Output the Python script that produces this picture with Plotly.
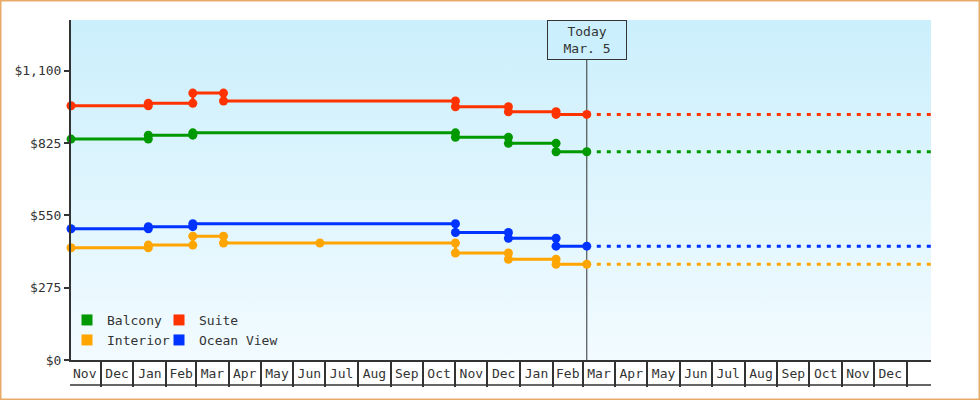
import pandas as pd
import plotly.graph_objects as go

# ---------------- data ----------------
X_START = "2021-11-03"
X_END = "2024-01-24"
FIRST_MONTH = "2021-11-01"
TODAY = "2023-03-05"
TODAY_LABEL = "Today<br>Mar. 5"
Y_MAX = 1293

MONTH_LABELS = ["Nov", "Dec", "Jan", "Feb", "Mar", "Apr", "May", "Jun", "Jul", "Aug",
                "Sep", "Oct", "Nov", "Dec", "Jan", "Feb", "Mar", "Apr", "May", "Jun",
                "Jul", "Aug", "Sep", "Oct", "Nov", "Dec"]
Y_TICKS = [0, 275, 550, 825, 1100]
Y_TICK_LABELS = ["$0", "$275", "$550", "$825", "$1,100"]

suite_dates = ["2021-11-03", "2022-01-15", "2022-01-15", "2022-02-26", "2022-02-26",
               "2022-03-27", "2022-03-27", "2022-11-01", "2022-11-01", "2022-12-21",
               "2022-12-21", "2023-02-04", "2023-02-04", "2023-03-05"]
suite_prices = [967, 967, 976, 976, 1015, 1015, 985, 985, 963, 963, 944, 944, 934, 934]

balcony_dates = ["2021-11-03", "2022-01-15", "2022-01-15", "2022-02-26", "2022-02-26",
                 "2022-11-01", "2022-11-01", "2022-12-21", "2022-12-21", "2023-02-04",
                 "2023-02-04", "2023-03-05"]
balcony_prices = [840, 840, 855, 855, 864, 864, 847, 847, 824, 824, 792, 792]

ocean_dates = ["2021-11-03", "2022-01-15", "2022-01-15", "2022-02-26", "2022-02-26",
               "2022-11-01", "2022-11-01", "2022-12-21", "2022-12-21", "2023-02-04",
               "2023-02-04", "2023-03-05"]
ocean_prices = [499, 499, 507, 507, 518, 518, 485, 485, 463, 463, 433, 433]

interior_dates = ["2021-11-03", "2022-01-15", "2022-01-15", "2022-02-26", "2022-02-26",
                  "2022-03-27", "2022-03-27", "2022-06-26", "2022-11-01", "2022-11-01",
                  "2022-12-21", "2022-12-21", "2023-02-04", "2023-02-04", "2023-03-05"]
interior_prices = [427, 427, 437, 437, 471, 471, 445, 445, 445, 407, 407, 383, 383, 364, 364]

SERIES = [
    ("Balcony", balcony_dates, balcony_prices, "#009900"),
    ("Suite", suite_dates, suite_prices, "#ff3300"),
    ("Interior", interior_dates, interior_prices, "#ffa500"),
    ("Ocean View", ocean_dates, ocean_prices, "#0033ff"),
]
LEGEND_OF = {"Balcony": "legend", "Suite": "legend", "Interior": "legend2", "Ocean View": "legend2"}

# ---------------- style ----------------
FONT = "DejaVu Sans Mono"
INK = "#333333"
BG_TOP = "#cbeffc"
BG_BOTTOM = "#f2fbff"
W, H = 980, 400
ML, MR, MT, MB = 71, 49, 20, 40
PW, PH = W - ML - MR, H - MT - MB

month_starts = pd.date_range(FIRST_MONTH, periods=len(MONTH_LABELS) + 1, freq="MS")
month_mids = [month_starts[i] + (month_starts[i + 1] - month_starts[i]) / 2
              for i in range(len(MONTH_LABELS))]
boundaries = list(month_starts[1:])

fig = go.Figure()

# background gradient
fig.add_trace(go.Scatter(
    x=[X_START, X_END, X_END, X_START, X_START], y=[0, 0, Y_MAX, Y_MAX, 0],
    mode="none", fill="toself",
    fillgradient=dict(type="vertical", colorscale=[[0, BG_BOTTOM], [1, BG_TOP]]),
    hoverinfo="skip", showlegend=False))

# today line
fig.add_trace(go.Scatter(x=[TODAY, TODAY], y=[0, Y_MAX], mode="lines",
                         line=dict(color=INK, width=1), hoverinfo="skip", showlegend=False))

for name, d, p, c in SERIES:
    fig.add_trace(go.Scatter(
        x=[d[-1], X_END], y=[p[-1], p[-1]], mode="lines",
        line=dict(color=c, width=3, dash="4px,6px"), showlegend=False, hoverinfo="skip"))
    fig.add_trace(go.Scatter(
        x=d, y=p, mode="lines+markers", name=name, cliponaxis=False,
        line=dict(color=c, width=3),
        marker=dict(symbol="circle", size=9, color=c),
        showlegend=False))

for name, d, p, c in SERIES:
    fig.add_trace(go.Scatter(
        x=[None], y=[None], mode="markers", name=name,
        marker=dict(symbol="square", size=11, color=c),
        legend=LEGEND_OF[name], showlegend=True))
# empty spacer entry so the long "Ocean View" label is not clipped
fig.add_trace(go.Scatter(x=[None], y=[None], mode="markers", name=" ",
                         marker=dict(size=1, color="rgba(0,0,0,0)"),
                         legend="legend2", showlegend=True, hoverinfo="skip"))

legend_common = dict(orientation="h", font=dict(family=FONT, size=13, color=INK),
                     bgcolor="rgba(0,0,0,0)", borderwidth=0, entrywidth=47,
                     entrywidthmode="pixels", xanchor="left", yanchor="middle",
                     itemclick=False, itemdoubleclick=False, tracegroupgap=0)

fig.update_layout(
    width=W, height=H,
    margin=dict(l=ML, r=MR, t=MT, b=MB),
    paper_bgcolor="white", plot_bgcolor=BG_BOTTOM,
    font=dict(family=FONT, size=13, color=INK),
    legend=dict(x=(67 - ML) / PW, y=(360 - 320) / PH, **legend_common),
    legend2=dict(x=(67 - ML) / PW, y=(360 - 340) / PH, **legend_common),
    xaxis=dict(type="date", range=[X_START, X_END], showgrid=False, zeroline=False,
               showline=True, linecolor=INK, linewidth=2,
               tickmode="array", tickvals=month_mids, ticktext=MONTH_LABELS, ticks="",
               tickfont=dict(family=FONT, size=13, color=INK),
               minor=dict(tickmode="array", tickvals=boundaries, ticks="outside",
                          ticklen=25, tickwidth=1.5, tickcolor=INK, showgrid=False)),
    yaxis=dict(range=[0, Y_MAX], showgrid=False, zeroline=False, showline=True,
               linecolor=INK, linewidth=2, ticks="outside", ticklen=5, tickwidth=2,
               tickcolor=INK, tickmode="array", tickvals=Y_TICKS, ticktext=Y_TICK_LABELS,
               tickfont=dict(family=FONT, size=13, color=INK)),
    shapes=[
        dict(type="line", xref="paper", yref="paper", x0=-1 / PW, x1=1,
             y0=-25 / PH, y1=-25 / PH, line=dict(color=INK, width=1.5)),
        dict(type="rect", xref="paper", yref="paper",
             x0=(-ML + 0.75) / PW, x1=1 + (MR - 0.75) / PW,
             y0=(-MB + 0.75) / PH, y1=1 + (MT - 0.75) / PH,
             line=dict(color="#e8aa66", width=1.5)),
    ],
    annotations=[dict(x=TODAY, xref="x", y=1, yref="paper", yanchor="top",
                      text=TODAY_LABEL, showarrow=False,
                      font=dict(family=FONT, size=13, color=INK),
                      bgcolor=BG_TOP, bordercolor=INK, borderwidth=1,
                      width=78, height=38, borderpad=0)],
)

fig.write_html("out.html", config={"displayModeBar": False},
               post_script="document.body.style.margin='0px';document.body.style.padding='0px';")
